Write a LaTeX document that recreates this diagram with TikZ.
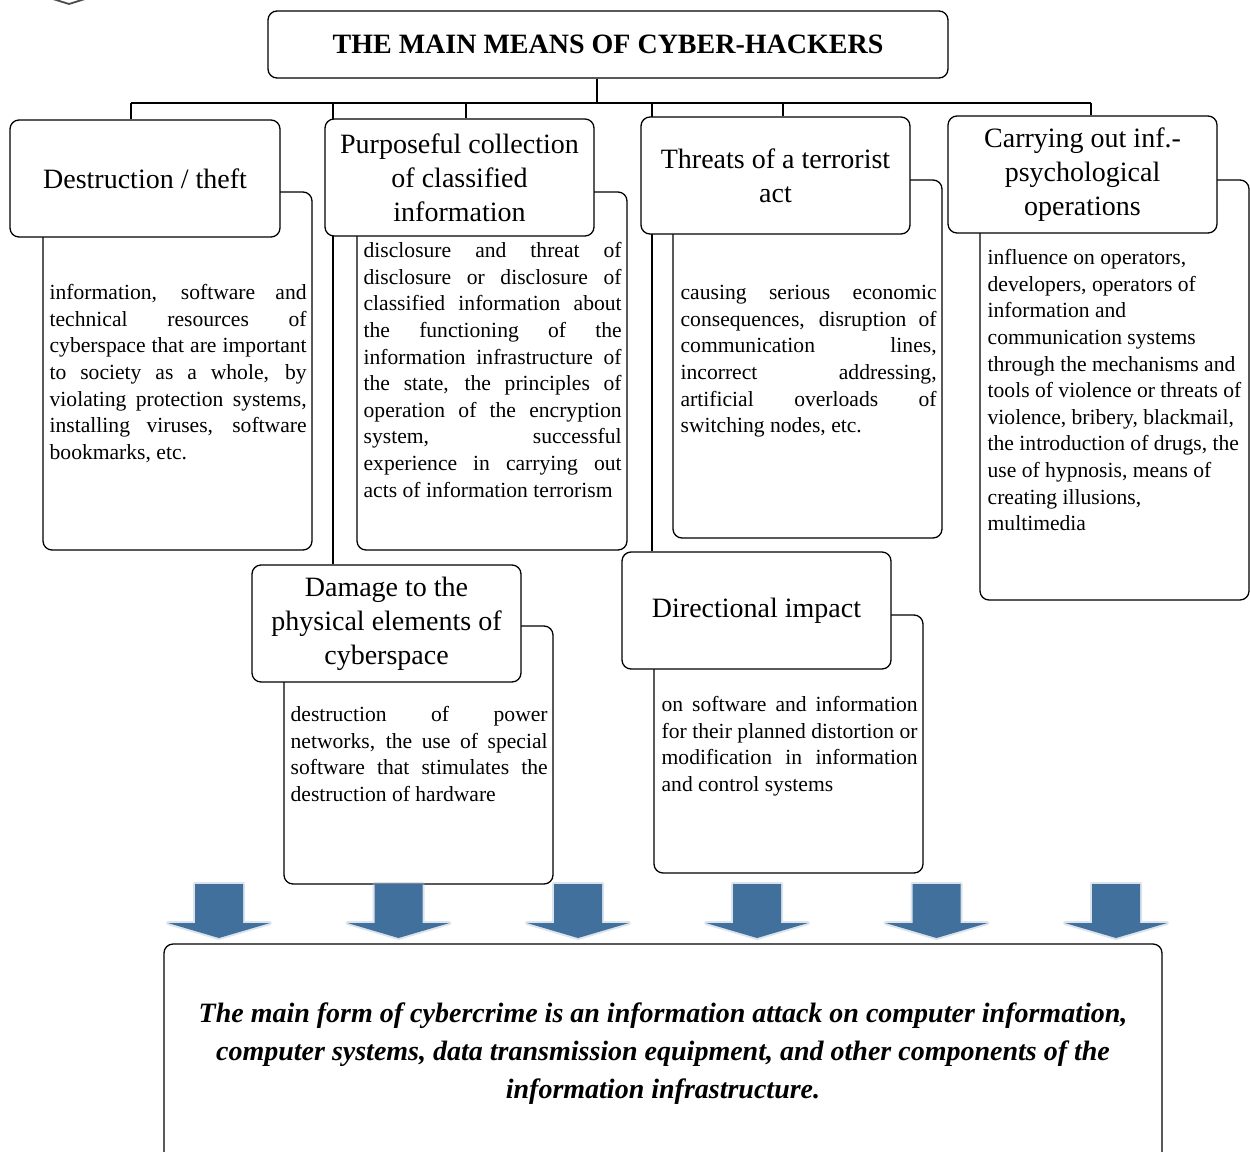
\documentclass[tikz,border=0pt]{standalone}
\usepackage{fontspec}
\setmainfont{Liberation Serif}
\usetikzlibrary{backgrounds}
\newlength\lw
% one justified line of a description
\newcommand\jl[1]{\makebox[\lw][s]{#1}\\}
% restore the font's own (stretchable) interword spacing
\newcommand\natsp{\spaceskip=0pt\xspaceskip=0pt\relax}
\definecolor{arrowblue}{RGB}{65,112,156}
\definecolor{arrowglow}{RGB}{175,195,215}

\begin{document}
\begin{tikzpicture}[x=1pt,y=-1pt,
  line width=1.3pt,
  box/.style={draw, rounded corners=9pt, fill=white, line width=1.3pt, inner sep=0pt},
  head/.style={box, minimum width=269pt, minimum height=117pt, align=center,
               font=\fontsize{28}{34}\selectfont},
  body/.style={box, minimum width=269pt},
  bodytext/.style={anchor=north west, inner sep=0pt, text width=#1, align=left,
               font=\fontsize{21.6}{26.6}\selectfont},
  conn/.style={draw, line width=1.3pt},
  downarrow/.style={fill=arrowblue},
  arrowhalo/.style={draw=arrowglow, line width=4pt, line join=round, opacity=0.45}
]
\useasboundingbox (0,0) rectangle (1250,1151);
\clip (0,0) rectangle (1250,1151);

% small mark in the upper left corner
\draw[line width=1.8pt, black!70] (53,-1) -- (69,4) -- (85,-1);

% title
\node[box, minimum width=680pt, minimum height=67pt,
      font=\fontsize{28}{34}\selectfont\bfseries] (title) at (608,44.5)
      {THE MAIN MEANS OF CYBER-HACKERS};

% description boxes (behind the headers)
\node[body, minimum height=358pt] (destrB)  at (177.5,371) {};
\node[body, minimum width=270pt, minimum height=358pt] (purpB) at (492,371) {};
\node[body, minimum height=358pt] (threatB) at (807.5,359) {};
\node[body, minimum height=420pt] (carryB)  at (1114.5,390) {};
\node[body, minimum height=258pt] (damageB) at (418.5,755) {};
\node[body, minimum height=258pt] (directB) at (788.5,744) {};

% headers
\node[head, minimum width=270pt] (destr) at (145,178.5) {Destruction / theft};
\node[head] (purp)   at (459.5,177.5) {Purposeful collection\\of classified\\information};
\node[head] (threat) at (775.5,175.5) {Threats of a terrorist\\act};
\node[head] (carry)  at (1082.5,174.5) {Carrying out inf.-\\psychological\\operations};
\node[head] (damage) at (386.5,623.5) {Damage to the\\physical elements of\\cyberspace};
\node[head] (direct) at (756.5,610.5) {Directional impact};

% description texts
\node[bodytext=257pt] (destrT) at (49,280.5) {\natsp\setlength\lw{257pt}\strut
\jl{information, software and}
\jl{technical resources of}
\jl{cyberspace that are important}
\jl{to society as a whole, by}
\jl{violating protection systems,}
\jl{installing viruses, software}
bookmarks, etc.};

\node[bodytext=258pt] (purpT) at (363,238.5) {\natsp\setlength\lw{258pt}\strut
\jl{disclosure and threat of}
\jl{disclosure or disclosure of}
\jl{classified information about}
\jl{the functioning of the}
\jl{information infrastructure of}
\jl{the state, the principles of}
\jl{operation of the encryption}
\jl{system, successful}
\jl{experience in carrying out}
acts of information terrorism};

\node[bodytext=256pt] (threatT) at (680,280.5) {\natsp\setlength\lw{256pt}\strut
\jl{causing serious economic}
\jl{consequences, disruption of}
\jl{communication lines,}
\jl{incorrect addressing,}
\jl{artificial overloads of}
switching nodes, etc.};

\node[bodytext=262pt] (carryT) at (987,245.5) {\natsp\strut
influence on operators,\\
developers, operators of\\
information and\\
communication systems\\
through the mechanisms and\\
tools of violence or threats of\\
violence, bribery, blackmail,\\
the introduction of drugs, the\\
use of hypnosis, means of\\
creating illusions,\\
multimedia};

\node[bodytext=257pt] (damageT) at (290,702.5) {\natsp\setlength\lw{257pt}\strut
\jl{destruction of power}
\jl{networks, the use of special}
\jl{software that stimulates the}
destruction of hardware};

\node[bodytext=256pt] (directT) at (661,692.5) {\natsp\setlength\lw{256pt}\strut
\jl{on software and information}
\jl{for their planned distortion or}
\jl{modification in information}
and control systems};

% conclusion box
\node[box, minimum width=998pt, minimum height=260pt] (concl) at (663,1074) {};
\node[align=center, inner sep=0pt, font=\fontsize{28}{38}\selectfont\bfseries\itshape]
  (conclT) at (663,1054)
  {The main form of cybercrime is an information attack on computer information,\\
   computer systems, data transmission equipment, and other components of the\\
   information infrastructure.};

% connectors
\begin{scope}[on background layer]
  \coordinate (bus) at (597,103);
  \coordinate (b1) at (131,103);
  \coordinate (b2) at (333,103);
  \coordinate (b3) at (466,103);
  \coordinate (b4) at (652,103);
  \coordinate (b5) at (783,103);
  \coordinate (b6) at (1091,103);
  \path[conn] (bus |- title.south) -- (bus);
  \path[conn] (b1) -- (b6);
  \path[conn] (b1) -- (b1 |- destr.north);
  \path[conn] (b2) -- (b2 |- damage.north);
  \path[conn] (b3) -- (b3 |- purp.north);
  \path[conn] (b4) -- (b4 |- direct.north);
  \path[conn] (b5) -- (b5 |- threat.north);
  \path[conn] (b6) -- (b6 |- carry.north);
\end{scope}

% block arrows into the conclusion
\foreach \c in {219,398.5,578,757,936.5,1116}{
  \path[arrowhalo] (\c-24,884) -- (\c-24,923) -- (\c-51,923) -- (\c,938)
        -- (\c+51,923) -- (\c+24,923) -- (\c+24,884) -- cycle;
  \path[downarrow] (\c-24,884) -- (\c-24,923) -- (\c-51,923) -- (\c,938)
        -- (\c+51,923) -- (\c+24,923) -- (\c+24,884) -- cycle;
}
\end{tikzpicture}
\end{document}
